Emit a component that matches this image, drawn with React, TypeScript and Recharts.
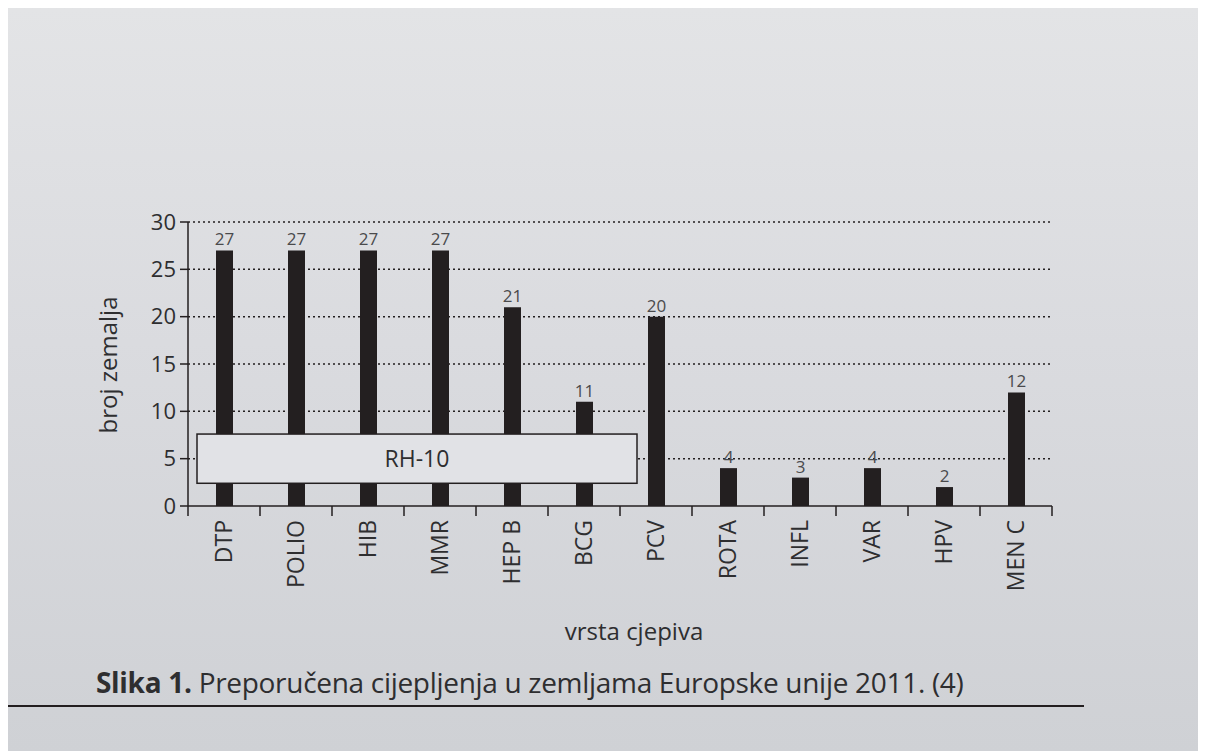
import { BarChart, Bar, XAxis, YAxis, CartesianGrid, ReferenceArea, LabelList } from "recharts";

const vaccines = ["DTP", "POLIO", "HIB", "MMR", "HEP B", "BCG", "PCV", "ROTA", "INFL", "VAR", "HPV", "MEN C"];
const countries = [27, 27, 27, 27, 21, 11, 20, 4, 3, 4, 2, 12];
const yTicks = [0, 5, 10, 15, 20, 25, 30];

const data = vaccines.map((name, i) => ({ name, value: countries[i] }));

const W = 1198;
const H = 743;
const MARGIN = { top: 214, right: 154, bottom: 145, left: 120 };
const Y_AXIS_W = 60;
const PLOT_W = W - MARGIN.left - MARGIN.right - Y_AXIS_W;
const BAND = PLOT_W / vaccines.length;
const INK = "#231f20";
const TEXT = "#2e2e30";
const FONT = "'Open Sans', 'Noto Sans', sans-serif";

function VaccineTick(props: any) {
  const { x, y, payload, index } = props;
  return (
    <g>
      {index === 0 && (
        <line x1={x - BAND / 2} x2={x - BAND / 2} y1={y - 14} y2={y - 4} stroke={INK} strokeWidth={1.5} />
      )}
      <line x1={x + BAND / 2} x2={x + BAND / 2} y1={y - 14} y2={y - 4} stroke={INK} strokeWidth={1.5} />
      <text
        x={x}
        y={y}
        transform={`rotate(-90 ${x} ${y})`}
        textAnchor="end"
        dy="0.36em"
        fill={TEXT}
        fontSize={23}
        fontFamily={FONT}
      >
        {payload.value}
      </text>
    </g>
  );
}

function Rh10Box(props: any) {
  const { x, y, width, height } = props;
  // box starts a little right of the DTP band and runs past BCG
  const bx = x + 9;
  const bw = width + 8;
  return (
    <g>
      <rect x={bx} y={y} width={bw} height={height} fill="#e1e2e6" stroke={INK} strokeWidth={1.5} />
      <text
        x={bx + bw / 2}
        y={y + height / 2}
        dy="0.36em"
        textAnchor="middle"
        fill={TEXT}
        fontSize={23}
        fontFamily={FONT}
      >
        RH-10
      </text>
    </g>
  );
}

export default function App() {
  return (
    <div
      style={{
        position: "relative",
        width: W,
        height: H,
        background: "linear-gradient(180deg, #e3e4e6 0%, #dadbdf 45%, #cfd1d5 100%)",
        fontFamily: FONT,
        color: TEXT,
      }}
    >
      <BarChart width={W} height={H} data={data} margin={MARGIN} barCategoryGap={0}>
        <CartesianGrid
          vertical={false}
          horizontalValues={[5, 10, 15, 20, 25, 30]}
          stroke={INK}
          strokeDasharray="2 3"
          strokeWidth={1.5}
        />
        <XAxis
          dataKey="name"
          interval={0}
          tickLine={false}
          tickSize={10}
          tickMargin={4}
          height={100}
          axisLine={{ stroke: INK, strokeWidth: 1.5 }}
          tick={<VaccineTick />}
        />
        <YAxis
          width={Y_AXIS_W}
          domain={[0, 30]}
          ticks={yTicks}
          interval={0}
          tickSize={8}
          tickMargin={4}
          axisLine={{ stroke: INK, strokeWidth: 1.5 }}
          tickLine={{ stroke: INK, strokeWidth: 1.5 }}
          tick={{ fill: TEXT, fontSize: 22, fontFamily: FONT }}
        />
        <Bar dataKey="value" fill={INK} barSize={17} isAnimationActive={false}>
          <LabelList dataKey="value" position="top" offset={5} fill="#4a4a4c" fontSize={17} fontFamily={FONT} />
        </Bar>
        <ReferenceArea
          x1="DTP"
          x2="BCG"
          y1={2.4}
          y2={7.6}
          shape={<Rh10Box />}
          ifOverflow="visible"
          zIndex={1500}
        />
      </BarChart>

      <div
        style={{
          position: "absolute",
          left: 99,
          top: 357,
          transform: "translate(-50%, -50%) rotate(-90deg)",
          fontSize: 24,
          whiteSpace: "nowrap",
        }}
      >
        broj zemalja
      </div>
      <div
        style={{
          position: "absolute",
          left: 626,
          top: 622,
          transform: "translate(-50%, -50%)",
          fontSize: 24,
          whiteSpace: "nowrap",
        }}
      >
        vrsta cjepiva
      </div>
      <div
        style={{
          position: "absolute",
          left: 88,
          top: 655,
          fontSize: 28,
          whiteSpace: "nowrap",
          letterSpacing: -0.3,
        }}
      >
        <b>Slika 1.</b> Preporučena cijepljenja u zemljama Europske unije 2011. (4)
      </div>
      <div
        style={{
          position: "absolute",
          left: 0,
          top: 697,
          width: 1076,
          height: 0,
          borderTop: `2px solid ${INK}`,
        }}
      />
    </div>
  );
}
